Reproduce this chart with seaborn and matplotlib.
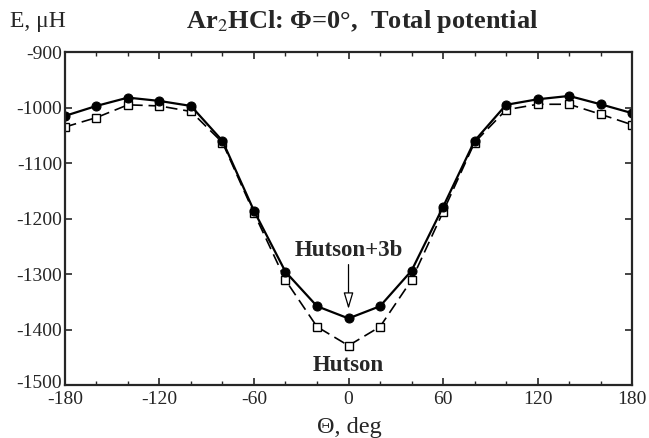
import matplotlib
matplotlib.use("Agg")
import matplotlib.pyplot as plt
import matplotlib.transforms as mtransforms
import seaborn as sns
import numpy as np
import pandas as pd

theta = [-180, -160, -140, -120, -100, -80, -60, -40, -20, 0, 20, 40, 60, 80, 100, 120, 140, 160, 180]
hutson_3b = [-1015, -997, -982, -988, -997, -1060, -1186, -1296, -1358, -1380, -1358, -1294, -1179, -1060, -995, -985, -979, -994, -1010]
hutson = [-1035, -1018, -995, -997, -1007, -1063, -1190, -1311, -1395, -1429, -1395, -1311, -1188, -1063, -1004, -994, -994, -1012, -1031]
xticks = [-180, -120, -60, 0, 60, 120, 180]
yticks = [-1500, -1400, -1300, -1200, -1100, -1000, -900]

sns.set_style("ticks")
plt.rcParams['font.family'] = ['Liberation Serif', 'DejaVu Serif']
plt.rcParams['mathtext.fontset'] = 'stix'
plt.rcParams['axes.unicode_minus'] = False

fig = plt.figure(figsize=(6.49, 4.38), dpi=100)
ax = fig.add_axes([0.100, 0.121, 0.874, 0.760])

df = pd.DataFrame({"theta": theta, "Hutson+3b": hutson_3b, "Hutson": hutson})

sns.lineplot(data=df, x="theta", y="Hutson", ax=ax, color="black", lw=1.2,
             marker="s", markersize=5.8, markerfacecolor="white",
             markeredgecolor="black", markeredgewidth=1.0, dashes=False,
             linestyle=(0, (7, 3.5)))
sns.lineplot(data=df, x="theta", y="Hutson+3b", ax=ax, color="black", lw=1.6,
             marker="o", markersize=6.5, markerfacecolor="black",
             markeredgecolor="black")

ax.set_xlim(-180, 180)
ax.set_ylim(-1500, -900)
ax.set_xticks(xticks)
ax.set_yticks(yticks)
ax.set_xticks(np.arange(-180, 181, 20), minor=True)
ax.tick_params(axis="both", which="major", direction="in", length=5, width=1.2,
               top=True, right=True, labelsize=14)
ax.tick_params(axis="x", which="minor", direction="in", length=3, width=1.0,
               top=True, bottom=True)
ax.tick_params(axis="x", pad=4)
ax.tick_params(axis="y", pad=2)
for s in ax.spines.values():
    s.set_linewidth(1.6)
    s.set_visible(True)
ax.set_xlabel("")
ax.set_ylabel("")

# nudge the lowest y label up slightly so it does not collide with the -180 label
fig.canvas.draw()
lab = ax.get_yticklabels()[0]
lab.set_transform(lab.get_transform() + mtransforms.ScaledTranslation(0, 4/100, fig.dpi_scale_trans))

ax.annotate("", xy=(0, -1368), xytext=(0, -1278),
            arrowprops=dict(arrowstyle="-|>,head_length=1.0,head_width=0.3",
                            facecolor="white", edgecolor="black", lw=0.9))
ax.text(0, -1258, "Hutson+3b", ha="center", va="center", fontsize=16.5, fontweight="bold")
ax.text(0, -1465, "Hutson", ha="center", va="center", fontsize=16.5, fontweight="bold")

fig.text(0.015, 0.952, "E, μH", ha="left", va="center", fontsize=17)
fig.text(0.558, 0.952, r"Ar$_{2}$HCl: Φ=0°,  Total potential", ha="center",
         va="center", fontsize=19, fontweight="bold")
fig.text(0.539, 0.024, "Θ, deg", ha="center", va="center", fontsize=17.5)

fig.savefig("out.png", dpi=100)
